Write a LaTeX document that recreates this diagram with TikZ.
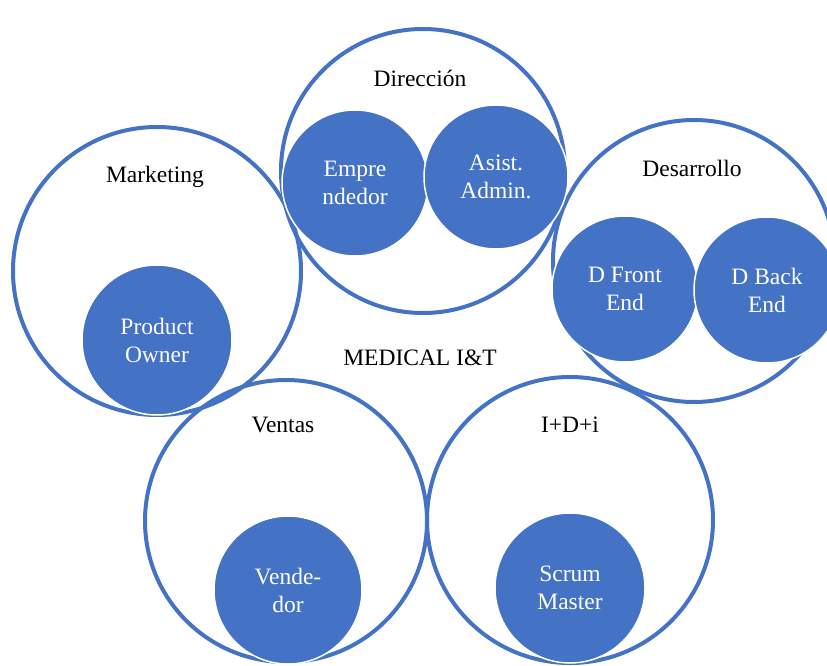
\documentclass[tikz,border=0pt]{standalone}
\usepackage{fontspec}
\setmainfont{Liberation Serif}
\definecolor{ofblue}{HTML}{4472C4}
\begin{document}
\begin{tikzpicture}[x=1pt,y=-1pt,
  bigcirc/.style={circle,draw=ofblue,line width=4pt,inner sep=0pt},
  smallcirc/.style={circle,fill=ofblue,draw=white,line width=1.5pt,inner sep=0pt,
     text=white,align=center,font=\fontsize{23.5}{28}\selectfont},
  lbl/.style={font=\fontsize{23.5}{28}\selectfont,text=black,inner sep=0pt}]
\useasboundingbox (0,0) rectangle (827,666);
% outer circles
\node[bigcirc,minimum size=284pt] (dir) at (423,171) {};
\node[bigcirc,minimum size=288pt] (mkt) at (157,271) {};
\node[bigcirc,minimum size=282pt] (des) at (694,261) {};
\node[bigcirc,minimum size=282pt] (ven) at (286,521) {};
\node[bigcirc,minimum size=286pt] (idi) at (570,520) {};
% inner filled circles
\node[smallcirc,minimum size=146pt] (emp) at (355,183) {Empre\\ndedor};
\node[smallcirc,minimum size=144pt] (asi) at (496,177) {Asist.\\Admin.};
\node[smallcirc,minimum size=150pt] (po) at (157,340) {Product\\Owner};
\node[smallcirc,minimum size=146pt] (dfe) at (625,289) {D Front\\End};
\node[smallcirc,minimum size=146pt] (dbe) at (767,290) {D Back\\End};
\node[smallcirc,minimum size=148pt] (vnd) at (288,590) {Vende-\\dor};
\node[smallcirc,minimum size=150pt] (scm) at (570,588) {Scrum\\Master};
% labels
\node[lbl] (ldir) at (420,78) {Dirección};
\node[lbl] (lmkt) at (155,177) {Marketing};
\node[lbl] (ldes) at (692,168) {Desarrollo};
\node[lbl] (lven) at (283,425) {Ventas};
\node[lbl] (lidi) at (570,425) {I+D+i};
\node[lbl] (lmed) at (420,358) {MEDICAL I\&T};
\end{tikzpicture}
\end{document}
